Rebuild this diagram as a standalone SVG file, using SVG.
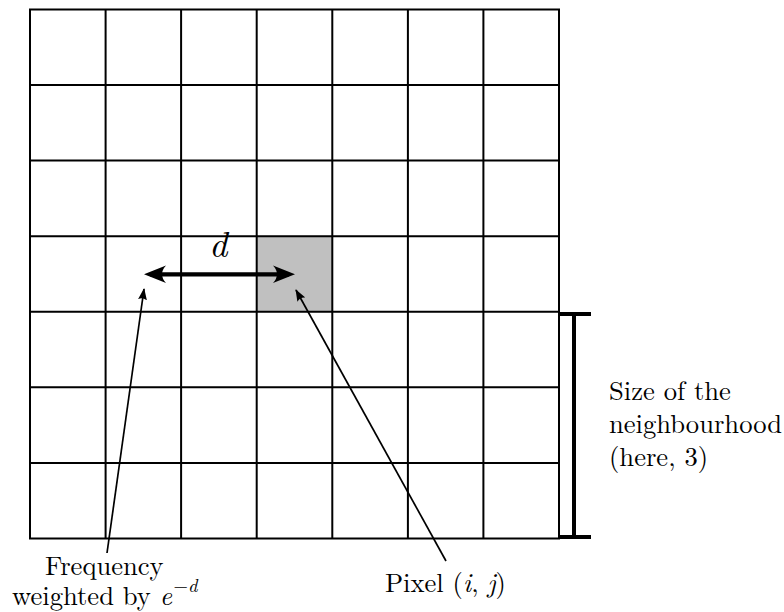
<svg xmlns="http://www.w3.org/2000/svg" width="784" height="612" viewBox="0 0 784 612">
<style>
.grid{stroke:#000;stroke-width:2;fill:none}
.thin{stroke:#000;stroke-width:1.7;fill:none}
</style>
<defs>
<marker id="ah" viewBox="0 0 12 10" refX="11" refY="5" markerWidth="12" markerHeight="10" markerUnits="userSpaceOnUse" orient="auto">
<path d="M0,0.5 L12,5 L0,9.5 Q3,5 0,0.5 Z" fill="#000"/>
</marker>
</defs>
<rect x="256.7" y="236.2" width="75.6" height="75.6" fill="#c0c0c0"/>
<g id="grid" class="grid">
<rect x="30" y="9.5" width="529" height="529"/>
<path d="M105.6,9.5V538.5M181.1,9.5V538.5M256.7,9.5V538.5M332.3,9.5V538.5M407.9,9.5V538.5M483.4,9.5V538.5"/>
<path d="M30,85H559M30,160.6H559M30,236.2H559M30,311.8H559M30,387.3H559M30,462.9H559"/>
</g>
<g id="connectors">
<g id="distance">
<line x1="150" y1="274.3" x2="289" y2="274.3" stroke="#000" stroke-width="4.2"/>
<path d="M144,274.3 L166,265.5 Q158,274.3 166,283 Z" fill="#000"/>
<path d="M295,274.3 L273,265.5 Q281,274.3 273,283 Z" fill="#000"/>
</g>
<line class="thin" x1="107" y1="553" x2="144" y2="289" marker-end="url(#ah)"/>
<line class="thin" x1="446" y1="561" x2="296" y2="290" marker-end="url(#ah)"/>
<g id="bracket" stroke="#000" stroke-width="4">
<line x1="574" y1="314" x2="574" y2="537"/>
<line x1="559" y1="314" x2="591" y2="314"/>
<line x1="559" y1="537" x2="591" y2="537"/>
</g>
</g>
<g id="labels" font-family="Latin Modern Roman, Liberation Serif, serif" font-size="26.6" fill="#000">
<text x="209" y="257" font-size="36" font-style="italic">d</text>
<g id="freq">
<text x="45" y="575">Frequency</text>
<text x="12" y="605">weighted by <tspan font-style="italic">e</tspan><tspan dx="1.5" dy="-13" font-size="18.5">−</tspan><tspan font-size="18.5" font-style="italic">d</tspan></text>
</g>
<text id="pixel" x="385" y="592">Pixel (<tspan font-style="italic">i</tspan>, <tspan font-style="italic">j</tspan>)</text>
<g id="size">
<text x="609" y="400">Size of the</text>
<text x="609" y="433">neighbourhood</text>
<text x="609" y="466">(here, 3)</text>
</g>
</g>
</svg>
